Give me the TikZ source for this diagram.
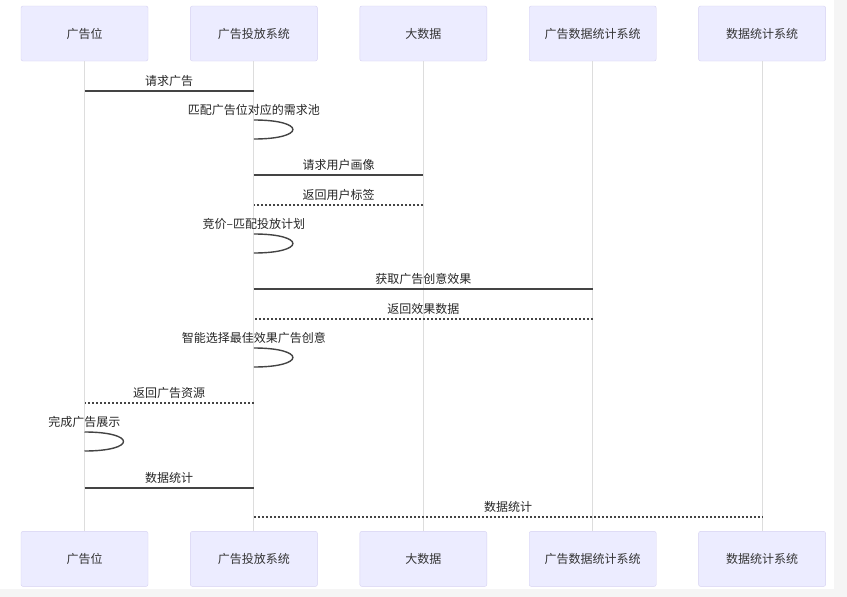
\documentclass[tikz,border=0pt]{standalone}
\usepackage{fontspec}
\setmainfont{Noto Sans CJK SC}
\usetikzlibrary{positioning}

\definecolor{actorfill}{HTML}{ECECFF}
\definecolor{actorline}{HTML}{D6D1F2}
\definecolor{lifegray}{HTML}{DDDDDD}
\definecolor{msggray}{HTML}{444444}

\tikzset{
    actor/.style={draw=actorline, fill=actorfill, rounded corners=2pt, minimum width=127pt, minimum height=55pt, font=\fontsize{12}{14}\selectfont, text=black!80},
    lifeline/.style={draw=lifegray, line width=1pt},
    msg/.style={draw=msggray, line width=1.4pt},
    reply/.style={msg, dash pattern=on 2pt off 2pt},
    msgtext/.style={font=\fontsize{12}{14}\selectfont, text=black!85, inner sep=2pt, yshift=2pt},
}

\begin{document}
\begin{tikzpicture}[x=1pt, y=-1pt, node distance=42pt]
    \fill[black!4] (0,0) rectangle (847,597);
    \fill[white] (0,0) rectangle (834,589);
    \useasboundingbox (0,0) rectangle (847,597);

    \node[actor] (ad) at (84.5,33.5) {广告位};
    \node[actor, right=of ad] (dsp) {广告投放系统};
    \node[actor, right=of dsp] (bd) {大数据};
    \node[actor, right=of bd] (ads) {广告数据统计系统};
    \node[actor, right=of ads] (st) {数据统计系统};

    \node[actor, below=470pt of ad] (adB) {广告位};
    \node[actor, below=470pt of dsp] (dspB) {广告投放系统};
    \node[actor, below=470pt of bd] (bdB) {大数据};
    \node[actor, below=470pt of ads] (adsB) {广告数据统计系统};
    \node[actor, below=470pt of st] (stB) {数据统计系统};

    \foreach \a in {ad, dsp, bd, ads, st}
        \draw[lifeline] (\a) -- (\a B);

    \coordinate (m1) at (0,91);
    \coordinate (l1) at (0,120);
    \coordinate (m2) at (0,175);
    \coordinate (m3) at (0,205);
    \coordinate (l2) at (0,234);
    \coordinate (m4) at (0,289);
    \coordinate (m5) at (0,319);
    \coordinate (l3) at (0,348);
    \coordinate (m6) at (0,403);
    \coordinate (l4) at (0,432);
    \coordinate (m7) at (0,488);
    \coordinate (m8) at (0,517);

    \draw[msg] (ad |- m1) -- node[msgtext, above] {请求广告} (dsp |- m1);
    \draw[msg] (dsp |- l1) node[msgtext, above] {匹配广告位对应的需求池} to[out=0, in=0, distance=52pt] ++(0,19);
    \draw[msg] (dsp |- m2) -- node[msgtext, above] {请求用户画像} (bd |- m2);
    \draw[reply] (bd |- m3) -- node[msgtext, above] {返回用户标签} (dsp |- m3);
    \draw[msg] (dsp |- l2) node[msgtext, above] {竞价–匹配投放计划} to[out=0, in=0, distance=52pt] ++(0,19);
    \draw[msg] (dsp |- m4) -- node[msgtext, above] {获取广告创意效果} (ads |- m4);
    \draw[reply] (ads |- m5) -- node[msgtext, above] {返回效果数据} (dsp |- m5);
    \draw[msg] (dsp |- l3) node[msgtext, above] {智能选择最佳效果广告创意} to[out=0, in=0, distance=52pt] ++(0,19);
    \draw[reply] (dsp |- m6) -- node[msgtext, above] {返回广告资源} (ad |- m6);
    \draw[msg] (ad |- l4) node[msgtext, above] {完成广告展示} to[out=0, in=0, distance=52pt] ++(0,19);
    \draw[msg] (ad |- m7) -- node[msgtext, above] {数据统计} (dsp |- m7);
    \draw[reply] (dsp |- m8) -- node[msgtext, above] {数据统计} (st |- m8);
\end{tikzpicture}
\end{document}
